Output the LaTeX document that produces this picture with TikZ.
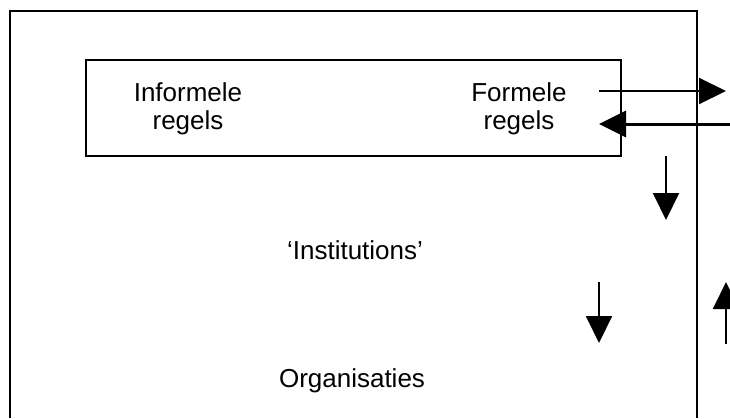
\documentclass[tikz,border=0pt]{standalone}
\usepackage{fontspec}
\setmainfont{Liberation Sans}
\usetikzlibrary{arrows.meta}

\begin{document}
\begin{tikzpicture}[x=1pt,y=-1pt]
        \tikzset{kader/.style={draw,line width=2pt},
            label/.style={font=\fontsize{26}{28}\selectfont,align=center,inner sep=0pt},
            pijl/.style={draw,line width=2pt,-{Triangle[length=27pt,width=26pt]}},
            dikkepijl/.style={pijl,line width=3pt}}
        \useasboundingbox (0,0) rectangle (730,418);
        \clip (0,0) rectangle (730,418);
        % buitenste kader, onderkant valt buiten beeld
        \draw[kader] (10,418) -- (10,11) -- (697,11) -- (697,418);
        \node[kader,inner sep=0pt,minimum width=535pt,minimum height=96pt] (regels) at (353.5,108) {};
        \node[label] (informeel) at (188,109) {Informele\\regels};
        \node[label] (formeel) at (519,109) {Formele\\regels};
        \node[label,anchor=base] (instituties) at (355,259) {‘Institutions’};
        \node[label,anchor=base] (organisaties) at (352,387) {Organisaties};
        \coordinate (uit start) at (599,91);
        \coordinate (uit eind) at (726,91);
        \coordinate (in start) at (731,124);
        \coordinate (in eind) at (599,124);
        \coordinate (neer1 start) at (666,156);
        \coordinate (neer1 eind) at (666,220);
        \coordinate (neer2 start) at (599,282);
        \coordinate (neer2 eind) at (599,343);
        \coordinate (op start) at (726,344);
        \coordinate (op eind) at (726,282);
        \draw[pijl] (uit start) -- (uit eind);
        \draw[dikkepijl] (in start) -- (in eind);
        \draw[pijl] (neer1 start) -- (neer1 eind);
        \draw[pijl] (neer2 start) -- (neer2 eind);
        \draw[pijl] (op start) -- (op eind);
\end{tikzpicture}
\end{document}
